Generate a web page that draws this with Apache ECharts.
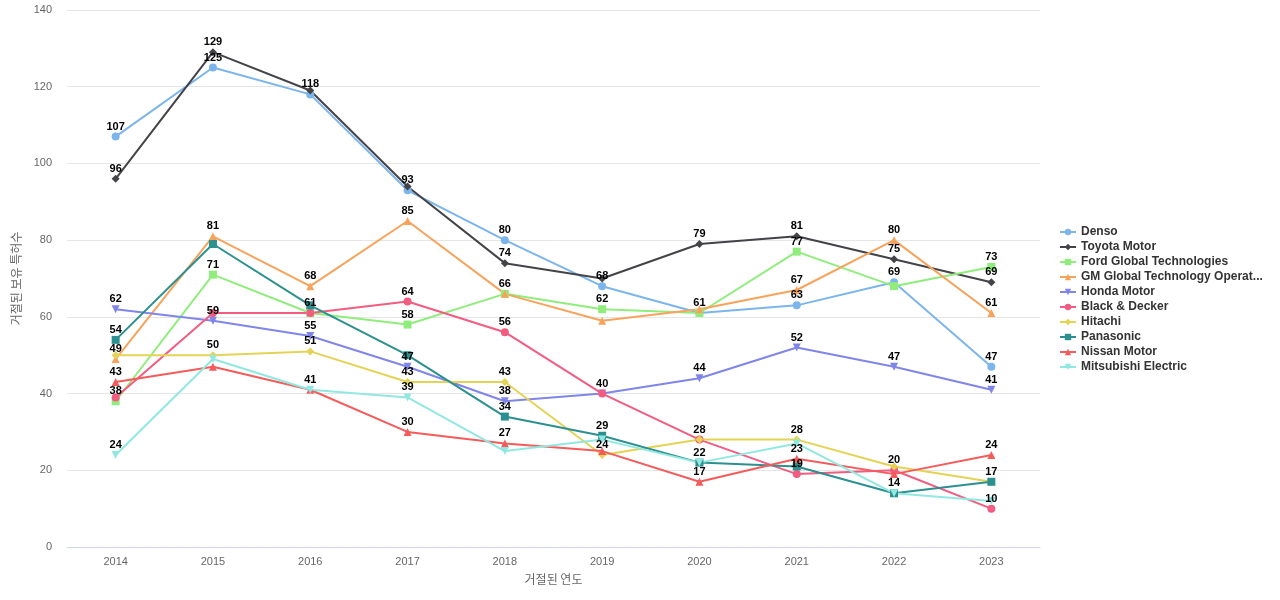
<!DOCTYPE html>
<html>
<head>
<meta charset="utf-8">
<script src="https://cdn.jsdelivr.net/npm/echarts@6/dist/echarts.min.js"></script>
<style>html,body{margin:0;padding:0;background:#fff}#c{width:1280px;height:600px}</style>
</head>
<body>
<div id="c"></div>
<script>
const years = ['2014','2015','2016','2017','2018','2019','2020','2021','2022','2023'];
const denso      = [107,125,118,93,80,68,61,63,69,47];
const toyota     = [96,129,119,94,74,70,79,81,75,69];
const ford       = [38,71,61,58,66,62,61,77,68,73];
const gm         = [49,81,68,85,66,59,62,67,80,61];
const honda      = [62,59,55,47,38,40,44,52,47,41];
const blackDecker= [39,61,61,64,56,40,28,19,20,10];
const hitachi    = [50,50,51,43,43,24,28,28,21,17];
const panasonic  = [54,79,63,50,34,29,22,21,14,17];
const nissan     = [43,47,41,30,27,25,17,23,19,24];
const mitsubishi = [24,49,41,39,25,28,22,27,14,12];
const names = ['Denso','Toyota Motor','Ford Global Technologies','GM Global Technology Operations','Honda Motor','Black & Decker','Hitachi','Panasonic','Nissan Motor','Mitsubishi Electric'];
const dataSets = [denso,toyota,ford,gm,honda,blackDecker,hitachi,panasonic,nissan,mitsubishi];
const colors = ['#7cb5ec','#434348','#90ed7d','#f7a35c','#8085e9','#f15c80','#e4d354','#2b908f','#f45b5b','#91e8e1'];
const symbols = ['circle','diamond','rect','triangle','triangle','circle','diamond','rect','triangle','triangle'];
const rotates = [0,0,0,0,180,0,0,0,0,180];

const series = names.map((n,i)=>({
  name:n, type:'line', data:dataSets[i], symbol:symbols[i], symbolRotate:rotates[i], symbolSize:8,
  lineStyle:{width:2,color:colors[i]}, itemStyle:{color:colors[i]},
  label:{show:true,position:'top',distance:-1,lineHeight:14,color:'#000',fontSize:11,fontWeight:'bold',fontFamily:'Liberation Sans, Arial, sans-serif'},
  labelLayout:{hideOverlap:true},
  emphasis:{disabled:true}, animation:false
}));

const chart = echarts.init(document.getElementById('c'));
chart.setOption({
  animation:false,
  color:colors,
  grid:{left:67,right:240,top:10,bottom:53},
  legend:{
    orient:'vertical', left:1054, top:221, itemGap:3, itemWidth:16, itemHeight:8,
    textStyle:{fontSize:12,fontWeight:'bold',color:'#333',fontFamily:'Liberation Sans, Arial, sans-serif'},
    formatter:function(n){ return n.length>28 ? n.slice(0,27)+'...' : n; }
  },
  xAxis:{
    type:'category', data:years, boundaryGap:true,
    name:'거절된 연도', nameLocation:'middle', nameGap:26,
    nameTextStyle:{color:'#666',fontSize:12,fontFamily:'Noto Sans CJK KR, sans-serif'},
    axisLine:{lineStyle:{color:'#ccd6eb'}}, axisTick:{show:false},
    axisLabel:{color:'#666',fontSize:11,margin:9,fontFamily:'Liberation Sans, Arial, sans-serif'}
  },
  yAxis:{
    type:'value', min:0, max:140, interval:20,
    name:'거절된 보유 특허수', nameLocation:'middle', nameGap:35,
    nameTextStyle:{color:'#666',fontSize:12,fontFamily:'Noto Sans CJK KR, sans-serif'},
    axisLine:{show:false}, axisTick:{show:false},
    axisLabel:{color:'#666',fontSize:11,margin:15,fontFamily:'Liberation Sans, Arial, sans-serif'},
    splitLine:{lineStyle:{color:'#e6e6e6'}}
  },
  series:series
});
</script>
</body>
</html>
